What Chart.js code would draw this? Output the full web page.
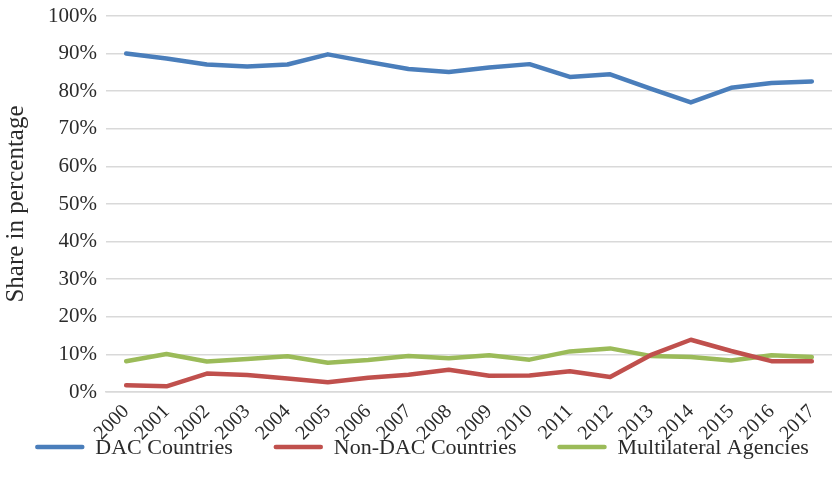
<!DOCTYPE html>
<html>
<head>
<meta charset="utf-8">
<script src="https://cdn.jsdelivr.net/npm/chart.js@4/dist/chart.umd.min.js"></script>
<style>
  html, body { margin: 0; padding: 0; background: #ffffff; }
  #wrap { width: 832px; height: 489px; position: relative; }
</style>
</head>
<body>
<div id="wrap"><canvas id="chart" width="832" height="489"></canvas></div>
<script>
// Share of aid by donor group, 2000–2017 (percent)
const years = ['2000','2001','2002','2003','2004','2005','2006','2007','2008',
               '2009','2010','2011','2012','2013','2014','2015','2016','2017'];
const dacCountries = [90.0, 88.7, 87.1, 86.6, 87.1, 89.8, 87.8, 85.9, 85.1,
                      86.3, 87.2, 83.8, 84.5, 80.7, 77.0, 80.9, 82.2, 82.6];
const nonDacCountries = [1.8, 1.5, 4.9, 4.5, 3.6, 2.6, 3.8, 4.6, 5.9,
                         4.3, 4.4, 5.5, 4.0, 9.8, 13.9, 10.9, 8.2, 8.2];
const multilateralAgencies = [8.2, 10.1, 8.1, 8.8, 9.5, 7.8, 8.5, 9.6, 9.0,
                              9.8, 8.6, 10.8, 11.6, 9.6, 9.3, 8.4, 9.8, 9.3];
const seriesNames = ['DAC Countries', 'Non-DAC Countries', 'Multilateral Agencies'];
const yTicks = [0, 10, 20, 30, 40, 50, 60, 70, 80, 90, 100];

const FONT = '"Liberation Serif", "Times New Roman", serif';
const TEXT = '#2b2b2b';
const GRID = '#d9d9d9';
const COLORS = ['#4a7ebb', '#c0504d', '#9bbb59'];

function lineSet(label, data, color) {
  return {
    label, data,
    borderColor: color, backgroundColor: color,
    borderWidth: 4.5, pointRadius: 0, pointHoverRadius: 0,
    tension: 0, fill: false,
    borderCapStyle: 'round', borderJoinStyle: 'round'
  };
}

// Legend row drawn under the plot: short thick line swatch followed by the name
const lineLegend = {
  id: 'lineLegend',
  afterDraw(chart) {
    const ctx = chart.ctx;
    const sw = 49, gap = 11, spacing = 41, cy = 447;
    ctx.save();
    ctx.font = '22px ' + FONT;
    const items = chart.data.datasets.map(ds => ({
      ds, w: sw + gap + ctx.measureText(ds.label).width
    }));
    const total = items.reduce((s, it) => s + it.w, 0) + spacing * (items.length - 1);
    let x = chart.width / 2 + 6 - total / 2;
    items.forEach(it => {
      ctx.strokeStyle = it.ds.borderColor;
      ctx.lineWidth = 4.5;
      ctx.lineCap = 'round';
      ctx.beginPath();
      ctx.moveTo(x + 2, cy);
      ctx.lineTo(x + sw - 2, cy);
      ctx.stroke();
      ctx.fillStyle = TEXT;
      ctx.textBaseline = 'middle';
      ctx.textAlign = 'left';
      ctx.fillText(it.ds.label, x + sw + gap, cy + 1);
      x += it.w + spacing;
    });
    ctx.restore();
  }
};

new Chart(document.getElementById('chart'), {
  type: 'line',
  data: {
    labels: years,
    datasets: [
      lineSet(seriesNames[0], dacCountries, COLORS[0]),
      lineSet(seriesNames[1], nonDacCountries, COLORS[1]),
      lineSet(seriesNames[2], multilateralAgencies, COLORS[2])
    ]
  },
  options: {
    responsive: false,
    animation: false,
    layout: { padding: { top: 16, right: 0, bottom: 0, left: 0 } },
    plugins: {
      legend: { display: false },
      tooltip: { enabled: false }
    },
    scales: {
      x: {
        offset: true,
        grid: { display: false, drawTicks: false },
        border: { display: true, color: GRID, width: 1.5 },
        ticks: {
          color: TEXT, font: { family: FONT, size: 20 },
          maxRotation: 45, minRotation: 45, padding: 8, autoSkip: false
        },
        afterFit(scale) {
          scale.height = 97;
          scale.paddingLeft = 0;
          scale.paddingRight = 0;
        }
      },
      y: {
        min: 0, max: 100,
        afterBuildTicks(scale) { scale.ticks = yTicks.map(v => ({ value: v })); },
        grid: { color: GRID, lineWidth: 1.5, drawTicks: false },
        border: { display: false },
        ticks: {
          color: TEXT, font: { family: FONT, size: 21 }, padding: 9,
          callback: v => v + '%'
        },
        title: {
          display: true, text: 'Share in percentage',
          color: TEXT, font: { family: FONT, size: 25 }, padding: { top: 1, bottom: 0 }
        },
        afterFit(scale) {
          scale.width = 106;
          scale.paddingTop = 0;
          scale.paddingBottom = 0;
        }
      }
    }
  },
  plugins: [lineLegend]
});
</script>
</body>
</html>
